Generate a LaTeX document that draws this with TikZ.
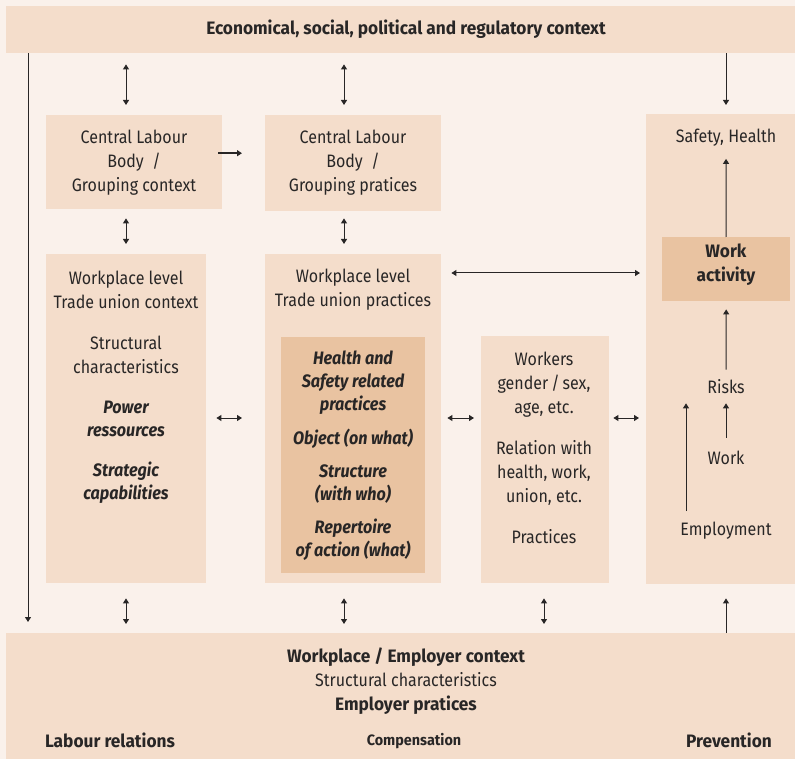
\documentclass[tikz,border=0pt]{standalone}
\usepackage{fontspec}
\setmainfont{Fira Sans}[UprightFeatures={FakeStretch=0.89}, ItalicFeatures={FakeStretch=0.89}, BoldFeatures={FakeStretch=0.96}, BoldItalicFeatures={FakeStretch=0.9}]
\usetikzlibrary{arrows.meta}
\definecolor{bgpeach}{RGB}{250,241,235}
\definecolor{boxpeach}{RGB}{244,221,203}
\definecolor{darkpeach}{RGB}{233,195,161}
\definecolor{inkgray}{RGB}{40,38,38}
\tikzset{
  panel/.style={fill=boxpeach, inner sep=0pt, anchor=north west},
  txt/.style={text=inkgray, align=center, inner sep=0pt, font=\fontsize{18}{24}\selectfont},
  bold/.style={txt, font=\fontsize{18}{24}\selectfont\bfseries},
  bolditalic/.style={txt, font=\fontsize{18}{23}\selectfont\bfseries\itshape},
  arr/.style={draw=inkgray, line width=1pt, -{Triangle[width=6pt,length=5pt]}},
  dbl/.style={draw=inkgray, line width=1pt, {Triangle[width=6pt,length=5pt]}-{Triangle[width=6pt,length=5pt]}},
}
\begin{document}
\begin{tikzpicture}[x=1pt,y=-1pt]
    \fill[bgpeach] (0,0) rectangle (795,759);
    \useasboundingbox (0,0) rectangle (795,759);
    \coordinate (colA) at (126,0);
    \coordinate (colB) at (344,0);
    \coordinate (colC) at (544,0);
    \coordinate (colD) at (726,0);
    \coordinate (emparr) at (686,0);
    \coordinate (midrow) at (0,418);
    \coordinate (actrow) at (0,273);

    \node[panel, minimum width=789pt, minimum height=47pt] (ctx) at (6,6) {};
    \node[bold] (ctxtitle) at (406,29) {Economical, social, political and regulatory context};

    \node[panel, minimum width=176pt, minimum height=94pt] (clbctx) at (46,115) {};
    \node[panel, minimum width=176pt, minimum height=96pt] (clbprc) at (265,115) {};
    \node[panel, minimum width=160pt, minimum height=329pt] (wpctx) at (46,254) {};
    \node[panel, minimum width=176pt, minimum height=329pt] (wpprc) at (265,254) {};
    \node[panel, fill=darkpeach, minimum width=144pt, minimum height=236pt] (hsprc) at (281,337) {};
    \node[panel, minimum width=128pt, minimum height=247pt] (workers) at (481,336) {};
    \node[panel, minimum width=149pt, minimum height=470pt] (prev) at (646,114) {};
    \node[panel, fill=darkpeach, minimum width=128pt, minimum height=64pt] (act) at (662,237) {};
    \node[panel, minimum width=789pt, minimum height=126pt] (emp) at (6,633) {};

    \node[txt] (clbctxtext) at (134,163) {Central Labour\\Body\ \ /\\Grouping context};
    \node[txt] (clbprctext) at (353,163) {Central Labour\\Body\ \ /\\Grouping pratices};

    \node[txt] (wpctxhead) at (126,290) {Workplace level\\Trade union context};
    \node[txt] (wpctxstruct) at (126,355) {Structural\\characteristics};
    \node[bolditalic] (wpctxpower) at (126,419) {Power\\ressources};
    \node[bolditalic] (wpctxstrat) at (126,483) {Strategic\\capabilities};

    \node[txt] (wpprchead) at (353,290) {Workplace level\\Trade union practices};
    \node[bolditalic] (hshead) at (353,383) {Health and\\Safety related\\practices};
    \node[bolditalic] (hsobject) at (353,439) {Object (on what)};
    \node[bolditalic] (hsstruct) at (353,484) {Structure\\(with who)};
    \node[bolditalic] (hsrep) at (353,540) {Repertoire\\of action (what)};

    \node[txt] (wkhead) at (544,385) {Workers\\gender\,/\,sex,\\age, etc.};
    \node[txt] (wkrel) at (544,473) {Relation with\\health, work,\\union, etc.};
    \node[txt] (wkprc) at (544,537) {Practices};

    \node[txt] (safety) at (726,138) {Safety, Health};
    \node[bold] (acttext) at (726,265) {Work\\activity};
    \node[txt] (risks) at (726,387) {Risks};
    \node[txt] (work) at (726,458) {Work};
    \node[txt] (employ) at (726,531) {Employment};

    \node[bold] (emptitle) at (406,657) {Workplace / Employer context};
    \node[txt] (empstruct) at (406,680) {Structural characteristics};
    \node[bold] (empprc) at (406,705) {Employer pratices};
    \node[bold] (labrel) at (110,740) {Labour relations};
    \node[bold, font=\fontsize{15}{18}\selectfont\bfseries] (comp) at (414,741) {Compensation};
    \node[bold] (prevtext) at (729,740) {Prevention};

    \draw[arr, shorten >=11pt] (ctx.south -| 28,0) -- (emp.north -| 28,0);
    \draw[arr, shorten >=9pt] (ctx.south -| colD) -- (prev.north -| colD);
    \draw[dbl, shorten <=11pt, shorten >=10pt] (ctx.south -| colA) -- (clbctx.north -| colA);
    \draw[dbl, shorten <=11pt, shorten >=10pt] (ctx.south -| colB) -- (clbprc.north -| colB);
    \draw[arr, line width=2pt, shorten <=-4pt, shorten >=23pt] ([yshift=9pt]clbctx.east) -- ([yshift=9pt]clbctx.east -| clbprc.west);
    \draw[dbl, shorten <=9pt, shorten >=10pt] (clbctx.south -| colA) -- (wpctx.north -| colA);
    \draw[dbl, shorten <=7pt, shorten >=10pt] (clbprc.south -| colB) -- (wpprc.north -| colB);
    \draw[dbl, shorten <=10pt, shorten >=22pt] (wpprc.east |- actrow) -- (act.west |- actrow);
    \draw[dbl, shorten <=10pt, shorten >=23pt] (wpctx.east |- midrow) -- (wpprc.west |- midrow);
    \draw[dbl, shorten <=6pt, shorten >=7pt] (wpprc.east |- midrow) -- (workers.west |- midrow);
    \draw[dbl, shorten <=4pt, shorten >=7pt] (workers.east |- midrow) -- (prev.west |- midrow);
    \draw[arr, shorten >=12pt] (act.north) -- (safety.south);
    \draw[arr, shorten <=10pt, shorten >=8pt] (risks.north) -- (act.south);
    \draw[arr, shorten <=13pt, shorten >=9pt] (work.north) -- (risks.south);
    \draw[arr, shorten <=11pt, shorten >=9pt] (employ.north -| emparr) -- (risks.south -| emparr);
    \draw[dbl, shorten <=15pt, shorten >=9pt] (wpctx.south -| colA) -- (emp.north -| colA);
    \draw[dbl, shorten <=15pt, shorten >=9pt] (wpprc.south -| colB) -- (emp.north -| colB);
    \draw[dbl, shorten <=15pt, shorten >=9pt] (workers.south -| colC) -- (emp.north -| colC);
    \draw[arr, shorten >=14pt] (emp.north -| colD) -- (prev.south -| colD);
\end{tikzpicture}
\end{document}
